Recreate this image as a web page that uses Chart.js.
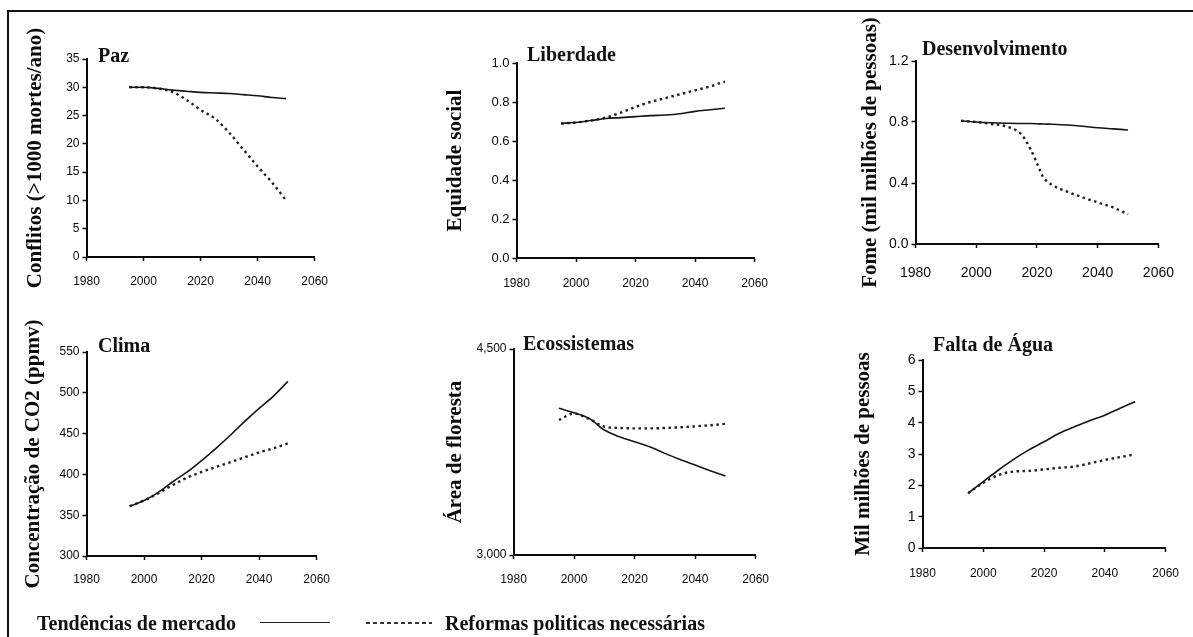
<!DOCTYPE html>
<html>
<head>
<meta charset="utf-8">
<script src="https://cdn.jsdelivr.net/npm/chart.js@4/dist/chart.umd.min.js"></script>
<style>
  html, body { margin:0; padding:0; background:#fff; overflow:hidden; }
  #stage { position:relative; width:1193px; height:637px; }
  .frame { position:absolute; left:7px; top:10px; width:1300px; height:700px; border-top:2px solid #111; border-left:2px solid #111; box-sizing:border-box; }
  canvas { position:absolute; }
  .ptitle { position:absolute; font-family:"Liberation Serif", "Times New Roman", serif; font-weight:bold; font-size:20px; line-height:24px; color:#111; white-space:nowrap; }
  .leg { position:absolute; font-family:"Liberation Serif", "Times New Roman", serif; font-weight:bold; font-size:20px; line-height:24px; color:#111; white-space:nowrap; }
  .lsolid { position:absolute; height:0; border-top:1.5px solid #222; }
  .ldash { position:absolute; height:1.5px; background:repeating-linear-gradient(to right, #333 0 4px, transparent 4px 7px); }
</style>
</head>
<body>
<div id="stage">
  <div class="frame"></div>
</div>
<script>
// ---- data ----
const years = [1995, 2000, 2005, 2010, 2015, 2020, 2025, 2030, 2035, 2040, 2045, 2050];
const desenvYears = [1995, 2000, 2005, 2010, 2015, 2018, 2020, 2022, 2025, 2030, 2035, 2040, 2045, 2050];
const xTicks = [1980, 2000, 2020, 2040, 2060];

const pazMercado  = [30, 30, 29.8, 29.5, 29.3, 29.1, 29.0, 28.9, 28.7, 28.5, 28.2, 28.0];
const pazReformas = [30, 30, 29.8, 29.2, 27.8, 26.0, 24.5, 22.0, 19.0, 16.0, 13.2, 10.0];

const libMercado  = [0.69, 0.695, 0.705, 0.715, 0.72, 0.725, 0.73, 0.733, 0.74, 0.752, 0.76, 0.768];
const libReformas = [0.69, 0.695, 0.705, 0.72, 0.745, 0.775, 0.80, 0.82, 0.84, 0.86, 0.88, 0.905];

const desMercado  = [0.808, 0.80, 0.795, 0.792, 0.79, 0.79, 0.789, 0.787, 0.785, 0.78, 0.772, 0.762, 0.755, 0.748];
const desReformas = [0.808, 0.80, 0.787, 0.77, 0.716, 0.616, 0.53, 0.44, 0.387, 0.343, 0.306, 0.273, 0.24, 0.195];

const climaMercado  = [361, 368, 378, 391, 403, 417, 432, 448, 465, 481, 496, 514];
const climaReformas = [361, 368, 377, 387, 396, 403, 409, 415, 421, 427, 432, 438];

const ecoMercado  = [4068, 4036, 3995, 3910, 3861, 3825, 3788, 3740, 3696, 3655, 3614, 3575];
const ecoReformas = [3983, 4030, 3990, 3935, 3925, 3922, 3922, 3925, 3930, 3937, 3945, 3955];

const aguaMercado  = [1.75, 2.12, 2.49, 2.83, 3.13, 3.39, 3.66, 3.87, 4.06, 4.24, 4.46, 4.67];
const aguaReformas = [1.75, 2.08, 2.33, 2.44, 2.46, 2.51, 2.56, 2.60, 2.70, 2.81, 2.90, 2.99];

const yTicksPaz = [0, 5, 10, 15, 20, 25, 30, 35];
const yTicksLib = [0.0, 0.2, 0.4, 0.6, 0.8, 1.0];
const yTicksDes = [0.0, 0.4, 0.8, 1.2];
const yTicksClima = [300, 350, 400, 450, 500, 550];
const yTicksEco = [3000, 4500];
const yTicksAgua = [0, 1, 2, 3, 4, 5, 6];

const legendLabels = ['Tendências de mercado', 'Reformas politicas necessárias'];

// ---- panels (layout) ----
const panels = [
  { title:'Paz', yTitle:'Conflitos (>1000 mortes/ano)', x:years, a:pazMercado, b:pazReformas, yt:yTicksPaz, dec:0,
    plot:{l:86, r:321, t:59, b:257}, titleX:35, tickFont:12, xTickFont:12, xCenter:23, head:{x:98, y:55} },
  { title:'Liberdade', yTitle:'Equidade social', x:years, a:libMercado, b:libReformas, yt:yTicksLib, dec:1,
    plot:{l:516, r:762, t:63, b:258}, titleX:455, tickFont:13, xTickFont:12, xCenter:24, head:{x:527, y:54} },
  { title:'Desenvolvimento', yTitle:'Fome (mil milhões de pessoas)', x:desenvYears, a:desMercado, b:desReformas, yt:yTicksDes, dec:1,
    plot:{l:915, r:1175, t:61, b:244}, titleX:870, tickFont:14, xTickFont:14, xCenter:28, head:{x:922, y:48}, padR:16 },
  { title:'Clima', yTitle:'Concentração de CO2 (ppmv)', x:years, a:climaMercado, b:climaReformas, yt:yTicksClima, dec:0,
    plot:{l:86, r:322, t:352, b:556}, titleX:33, tickFont:12, xTickFont:12, xCenter:22, head:{x:98, y:345} },
  { title:'Ecossistemas', yTitle:'Área de floresta', x:years, a:ecoMercado, b:ecoReformas, yt:yTicksEco, dec:0, comma:true,
    plot:{l:513, r:762, t:349, b:555}, titleX:455, tickFont:12, xTickFont:12, xCenter:23, head:{x:523, y:343} },
  { title:'Falta de Água', yTitle:'Mil milhões de pessoas', x:years, a:aguaMercado, b:aguaReformas, yt:yTicksAgua, dec:0,
    plot:{l:922, r:1180, t:360, b:548}, titleX:863, tickFont:14, xTickFont:12, xCenter:24, head:{x:933, y:344}, padR:13 }
];

const stage = document.getElementById('stage');
const INK = '#0a0a0a';
const TITLE_LH = 25; // 21px * 1.2

panels.forEach(p => {
  const padTop = Math.min(55, p.plot.t - 4);
  const padR = p.padR || 20;
  const xH = 62;
  const left = p.titleX - TITLE_LH / 2;
  const yW = p.plot.l - left;
  const top = p.plot.t - padTop;
  const W = p.plot.r + padR - left;
  const H = p.plot.b + xH - top;

  const cv = document.createElement('canvas');
  cv.width = W; cv.height = H;
  cv.style.left = left + 'px'; cv.style.top = top + 'px';
  cv.style.width = W + 'px'; cv.style.height = H + 'px';
  stage.appendChild(cv);

  const yMin = p.yt[0], yMax = p.yt[p.yt.length - 1];
  const xPad = Math.max(0, p.xCenter - p.xTickFont / 2 - 4);

  const toPts = arr => arr.map((v, i) => ({ x: p.x[i], y: v }));

  new Chart(cv, {
    type: 'line',
    data: {
      datasets: [
        { label: legendLabels[0], data: toPts(p.a), borderColor: '#151515', borderWidth: 1.6,
          pointRadius: 0, cubicInterpolationMode: 'monotone', fill: false },
        { label: legendLabels[1], data: toPts(p.b), borderColor: '#222', borderWidth: 2.4,
          borderDash: [2.5, 3.5], pointRadius: 0, cubicInterpolationMode: 'monotone', fill: false }
      ]
    },
    options: {
      responsive: false, animation: false, devicePixelRatio: 1,
      layout: { padding: { left: 0, top: padTop, right: padR, bottom: 0 } },
      plugins: { legend: { display: false }, tooltip: { enabled: false } },
      scales: {
        x: {
          type: 'linear', min: xTicks[0], max: xTicks[xTicks.length - 1],
          afterBuildTicks: s => { s.ticks = xTicks.map(v => ({ value: v })); },
          ticks: { callback: v => String(v), color: INK, padding: xPad, maxRotation: 0, autoSkip: false,
                   font: { family: '"Liberation Sans Narrow", "Liberation Sans", sans-serif', size: p.xTickFont } },
          grid: { drawOnChartArea: false, drawTicks: true, tickLength: 4, tickColor: INK, tickWidth: 1.5 },
          border: { display: true, color: INK, width: 2 },
          afterFit: s => { s.height = xH; }
        },
        y: {
          type: 'linear', min: yMin, max: yMax,
          afterBuildTicks: s => { s.ticks = p.yt.map(v => ({ value: v })); },
          ticks: { color: INK, padding: 3, autoSkip: false,
                   callback: v => p.comma ? v.toLocaleString('en-US') : Number(v).toFixed(p.dec),
                   font: { family: '"Liberation Sans Narrow", "Liberation Sans", sans-serif', size: p.tickFont } },
          grid: { drawOnChartArea: false, drawTicks: true, tickLength: 4, tickColor: INK, tickWidth: 1.5 },
          border: { display: true, color: INK, width: 2 },
          title: { display: true, text: p.yTitle, color: INK, padding: 0,
                   font: { family: '"Liberation Serif", "Times New Roman", serif', weight: 'bold', size: 21 } },
          afterFit: s => { s.width = yW; }
        }
      }
    }
  });

  const h = document.createElement('div');
  h.className = 'ptitle';
  h.textContent = p.title;
  h.style.left = p.head.x + 'px';
  h.style.top = (p.head.y - 12) + 'px';
  stage.appendChild(h);
});

// ---- legend ----
function addEl(cls, css, text) {
  const d = document.createElement('div');
  d.className = cls;
  Object.assign(d.style, css);
  if (text) d.textContent = text;
  stage.appendChild(d);
}
addEl('leg', { left: '37px', top: '611px' }, legendLabels[0]);
addEl('lsolid', { left: '260px', top: '622px', width: '70px' });
addEl('ldash', { left: '366px', top: '622px', width: '66px' });
addEl('leg', { left: '445px', top: '611px' }, legendLabels[1]);
</script>
</body>
</html>
